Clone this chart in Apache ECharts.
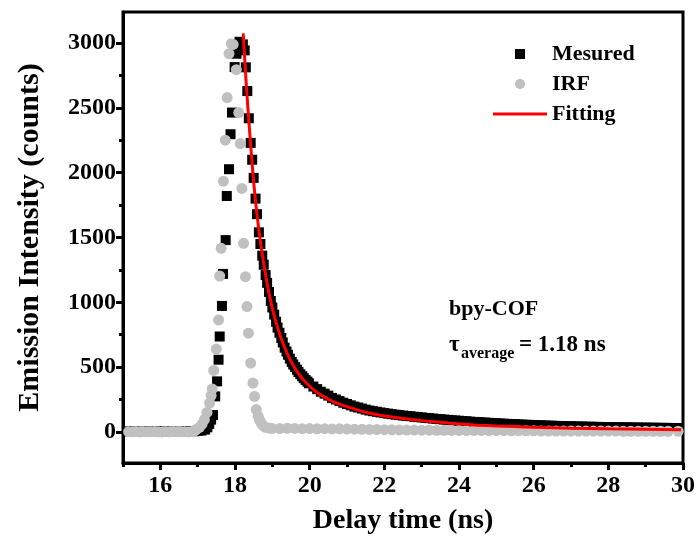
<!DOCTYPE html>
<html>
<head>
<meta charset="utf-8">
<script src="https://cdn.jsdelivr.net/npm/echarts@6/dist/echarts.min.js"></script>
<style>
html,body{margin:0;padding:0;background:#fff;}
#chart{width:699px;height:550px;}
</style>
</head>
<body>
<div id="chart"></div>
<script>
// ---- data ----
const seriesNames = ['Mesured', 'IRF', 'Fitting'];

// measured decay (time ns, counts)
const measured = [
  [15.15,4],[15.3,6],[15.5,3],[15.7,5],[15.9,7],[16.1,4],[16.3,5],[16.5,3],[16.7,6],[16.9,5],[17.0,8],
  [17.1,10],[17.2,18],[17.26,35],[17.31,62],[17.36,95],[17.41,130],[17.47,274],[17.52,390],[17.56,557],
  [17.59,736],[17.65,972],[17.68,1219],[17.75,1480],[17.78,1820],[17.84,2027],[17.88,2297],[17.92,2464],
  [17.99,2815],[18.04,2918],[18.08,2990],[18.12,3010],[18.17,2982],[18.21,2990],[18.26,2944],[18.29,2813],
  [18.33,2630],[18.37,2420],[18.42,2230],[18.46,2100],[18.50,1960],[18.55,1800],[18.59,1680],[18.64,1540],
  [18.68,1450],[18.73,1360],[18.77,1290],[18.82,1210],[18.86,1150],[18.91,1080],[18.96,1010],[19.00,960],
  [19.05,905],[19.10,850],[19.14,805],[19.19,765],[19.24,725],[19.28,690],[19.33,650],[19.38,620],
  [19.42,595],[19.47,565],[19.52,540],[19.56,520],[19.61,500],[19.66,480],[19.70,462],[19.75,445],
  [19.80,430],[19.84,415],[19.89,400],[19.94,388],[19.98,375],[20.1,350],[20.2,330],[20.3,310],[20.4,295],
  [20.5,280],[20.6,262],[20.7,250],[20.8,238],[20.9,225],[21.0,215],[21.1,205],[21.2,195],[21.3,188],
  [21.4,180],[21.5,172],[21.6,165],[21.7,160],[21.8,155],[21.9,150],[22.0,145],[22.1,141],[22.2,137],
  [22.3,133],[22.4,130],[22.5,126],[22.6,123],[22.7,121],[22.8,117],[22.9,114],[23.0,112],[23.1,108],
  [23.2,106],[23.3,103],[23.4,100],[23.5,98],[23.6,95],[23.7,93],[23.8,90],[23.9,88],[24.0,86],[24.1,83],
  [24.2,82],[24.3,79],[24.4,77],[24.5,76],[24.6,73],[24.7,72],[24.8,70],[24.9,68],[25.0,67],[25.1,65],
  [25.2,63],[25.3,62],[25.4,61],[25.5,59],[25.6,58],[25.7,56],[25.8,55],[25.9,54],[26.0,53],[26.1,51],
  [26.2,51],[26.3,49],[26.4,48],[26.5,48],[26.6,46],[26.7,46],[26.8,45],[26.9,44],[27.0,43],[27.1,42],
  [27.2,42],[27.3,41],[27.4,40],[27.5,40],[27.6,39],[27.7,39],[27.8,38],[27.9,37],[28.0,37],[28.1,36],
  [28.2,36],[28.3,35],[28.4,35],[28.5,35],[28.6,34],[28.7,34],[28.8,33],[28.9,33],[29.0,33],[29.1,32],
  [29.2,32],[29.3,32],[29.4,31],[29.5,31],[29.6,31],[29.7,30],[29.8,30],[29.87,30]
];

// instrument response function (time ns, counts)
const irf = [
  [15.15,2],[15.25,1],[15.35,3],[15.45,0],[15.55,2],[15.65,1],[15.75,2],[15.85,3],[15.95,1],[16.05,0],
  [16.15,2],[16.25,1],[16.35,3],[16.45,2],[16.55,1],[16.65,2],[16.75,0],[16.85,3],[16.91,6],[16.96,18],[17.05,35],
  [17.12,60],[17.18,95],[17.25,150],[17.32,223],[17.36,280],[17.39,331],[17.43,474],[17.50,639],[17.56,864],
  [17.59,1203],[17.63,1417],[17.69,1935],[17.74,2251],[17.79,2580],[17.84,2918],[17.90,2995],[17.95,2990],
  [18.035,2795],[18.10,2464],[18.14,2225],[18.185,1879],[18.23,1455],[18.28,1198],[18.32,967],[18.36,762],
  [18.42,531],[18.48,377],[18.525,274],[18.57,172],[18.62,120],[18.66,90],[18.70,69],[18.75,50],[18.82,35],
  [18.93,28],[19.0,27],[19.2,26],[19.4,28],[19.6,27],[19.8,25],[20.0,26],[20.2,24],[20.4,25],[20.6,23],
  [20.8,24],[21.0,22],[21.2,21],[21.4,20],[21.6,19],[21.8,18],[22.0,17],[22.2,16],[22.4,15],[22.6,14],
  [22.8,14],[23.0,13],[23.2,13],[23.4,12],[23.6,12],[23.8,11],[24.0,11],[24.2,10],[24.4,10],[24.6,10],
  [24.8,9],[25.0,9],[25.2,9],[25.4,8],[25.6,8],[25.8,8],[26.0,8],[26.2,7],[26.4,7],[26.6,7],[26.8,7],
  [27.0,7],[27.2,6],[27.4,6],[27.6,6],[27.8,6],[28.0,6],[28.2,6],[28.4,5],[28.6,5],[28.8,5],[29.0,5],
  [29.2,5],[29.4,5],[29.6,5],[29.87,5]
];

// fitted decay curve (time ns, counts)
const fitT = [18.22,18.26,18.30,18.35,18.40,18.45,18.50,18.55,18.60,18.65,18.70,18.80,18.90,19.00,19.10,
  19.20,19.30,19.40,19.50,19.60,19.70,19.80,20.00,20.20,20.40,20.60,20.80,21.00,21.25,21.50,21.75,22.00,
  22.50,23.00,23.50,24.00,24.50,25.00,25.50,26.00,27.00,28.00,29.00,29.95];
const fitI = [3075,2876,2691,2480,2288,2100,1930,1780,1650,1535,1430,1245,1085,955,845,
  752,672,604,545,493,450,412,352,304,268,238,215,195,172,152,136,123,
  103,87,74,61,52,46,41,36,29,24,20,17];

// axis ticks
const xMajorTicks = [16,18,20,22,24,26,28,30];
const xMinorTicks = [15,17,19,21,23,25,27,29];
const yMajorTicks = [0,500,1000,1500,2000,2500,3000];
const yMinorTicks = [250,750,1250,1750,2250,2750];
const xRange = [15, 30];
const yRange = [-240, 3240];

// ---- chart ----
const FONT = '"Liberation Serif","Times New Roman",serif';
const fitData = fitT.map((t, i) => [t, fitI[i]]);
const chart = echarts.init(document.getElementById('chart'), null, {renderer: 'canvas'});

const plain = (v) => String(v);

const option = {
  animation: false,
  backgroundColor: '#fff',
  grid: {left: 123, right: 16, top: 12, bottom: 87, show: true, borderColor: '#000', borderWidth: 3, backgroundColor: 'transparent'},
  legend: {
    orient: 'vertical', left: 493, top: 43, padding: 0, itemGap: 8,
    itemWidth: 54, itemHeight: 10, selectedMode: false,
    textStyle: {fontFamily: FONT, fontWeight: 'bold', fontSize: 22, color: '#000'},
    data: [
      {name: 'Mesured', icon: 'path://M0,0L10,0L10,10L0,10Z'},
      {name: 'IRF', icon: 'circle'},
      {name: 'Fitting', icon: 'path://M0,0L54,0L54,3L0,3Z'}
    ]
  },
  xAxis: [
    {
      type: 'value', min: xRange[0], max: xRange[1], position: 'bottom',
      axisLine: {show: true, onZero: false, lineStyle: {color: '#000', width: 3}},
      splitLine: {show: false},
      name: 'Delay time (ns)', nameLocation: 'middle', nameGap: 44,
      nameTextStyle: {fontFamily: FONT, fontWeight: 'bold', fontSize: 28, color: '#000'},
      axisTick: {show: true, inside: false, length: 7, customValues: xMajorTicks, lineStyle: {color: '#000', width: 3}},
      axisLabel: {show: true, customValues: xMajorTicks, margin: 11, formatter: plain, fontFamily: FONT, fontWeight: 'bold', fontSize: 24, color: '#000'}
    },
    {
      type: 'value', min: xRange[0], max: xRange[1], position: 'bottom',
      axisLine: {show: false, onZero: false}, splitLine: {show: false},
      axisTick: {show: true, length: 4, customValues: xMinorTicks, lineStyle: {color: '#000', width: 3}},
      axisLabel: {show: false}
    }
  ],
  yAxis: [
    {
      type: 'value', min: yRange[0], max: yRange[1], position: 'left',
      axisLine: {show: true, onZero: false, lineStyle: {color: '#000', width: 3}},
      splitLine: {show: false},
      name: 'Emission Intensity (counts)', nameLocation: 'middle', nameGap: 78, nameRotate: 90,
      nameTextStyle: {fontFamily: FONT, fontWeight: 'bold', fontSize: 30, color: '#000'},
      axisTick: {show: true, inside: false, length: 7, customValues: yMajorTicks, lineStyle: {color: '#000', width: 3}},
      axisLabel: {show: true, customValues: yMajorTicks, margin: 7, formatter: plain, fontFamily: FONT, fontWeight: 'bold', fontSize: 24, color: '#000'}
    },
    {
      type: 'value', min: yRange[0], max: yRange[1], position: 'left',
      axisLine: {show: false, onZero: false}, splitLine: {show: false},
      axisTick: {show: true, length: 4, customValues: yMinorTicks, lineStyle: {color: '#000', width: 3}},
      axisLabel: {show: false}
    }
  ],
  series: [
    {
      name: seriesNames[0], type: 'scatter', xAxisIndex: 0, yAxisIndex: 0,
      symbol: 'rect', symbolSize: 10, itemStyle: {color: '#000', opacity: 1},
      data: measured, z: 2, emphasis: {disabled: true}
    },
    {
      name: seriesNames[1], type: 'scatter', xAxisIndex: 0, yAxisIndex: 0,
      symbol: 'circle', symbolSize: 11, itemStyle: {color: '#c0c0c0', opacity: 1},
      data: irf, z: 3, emphasis: {disabled: true}
    },
    {
      name: seriesNames[2], type: 'line', xAxisIndex: 0, yAxisIndex: 0,
      showSymbol: false, smooth: 0.3, lineStyle: {color: '#ff0000', width: 3},
      itemStyle: {color: '#ff0000'},
      data: fitData, z: 4, emphasis: {disabled: true}
    }
  ],
  graphic: [
    {type: 'text', left: 449, top: 298, z: 10,
     style: {text: 'bpy-COF', font: 'bold 22px ' + FONT, fill: '#000'}},
    {type: 'text', left: 449, top: 334, z: 10,
     style: {text: 'τ', font: 'bold 23px ' + FONT, fill: '#000'}},
    {type: 'text', left: 461, top: 346, z: 10,
     style: {text: 'average', font: 'bold 16px ' + FONT, fill: '#000'}},
    {type: 'text', left: 519, top: 334, z: 10,
     style: {text: '= 1.18 ns', font: 'bold 23px ' + FONT, fill: '#000'}}
  ]
};
chart.setOption(option);
</script>
</body>
</html>
